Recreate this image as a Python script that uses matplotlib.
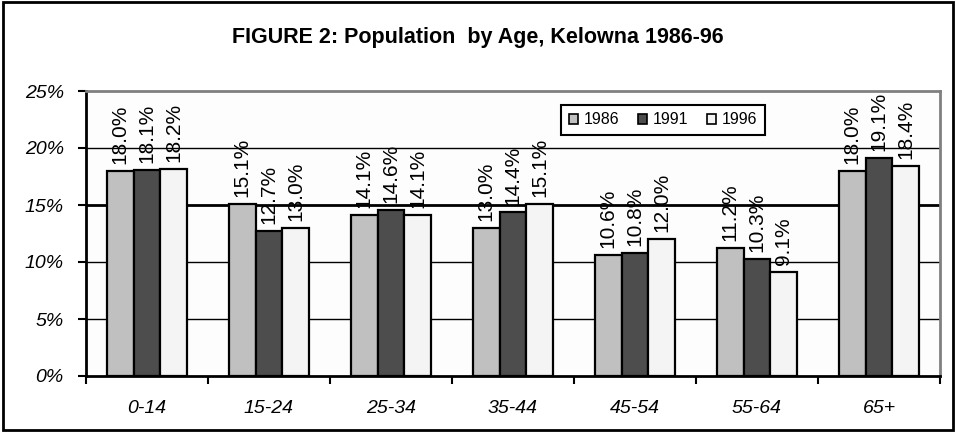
#set up modules
import numpy as np
import matplotlib.pyplot as plt
from matplotlib.patches import Patch, Rectangle

plt.rcParams['font.family'] = ['Liberation Sans', 'DejaVu Sans']

#chart data
age_groups = ['0-14', '15-24', '25-34', '35-44', '45-54', '55-64', '65+']
years = ['1986', '1991', '1996']
pop_1986 = [18.0, 15.1, 14.1, 13.0, 10.6, 11.2, 18.0]
pop_1991 = [18.1, 12.7, 14.6, 14.4, 10.8, 10.3, 19.1]
pop_1996 = [18.2, 13.0, 14.1, 15.1, 12.0, 9.1, 18.4]
y_ticks = [0, 5, 10, 15, 20, 25]

series = [pop_1986, pop_1991, pop_1996]
colors = ['#c0c0c0', '#4d4d4d', '#f4f4f4']

W, H = 956, 432
fig = plt.figure(figsize=(W / 100, H / 100), dpi=100)
fig.patch.set_facecolor('white')
ax = fig.add_axes([86 / W, 1 - 376 / H, (940 - 86) / W, (376 - 91) / H])
ax.set_facecolor('#fdfdfd')

#outer frame round the whole chart
fig.patches.append(Rectangle((3 / W, 2 / H), 950 / W, 428 / H, transform=fig.transFigure,
                             fill=False, edgecolor='black', linewidth=2, zorder=0))

x = np.arange(len(age_groups))
bw = 0.22
for i, vals in enumerate(series):
    pos = x + (i - 1) * bw
    ax.bar(pos, vals, width=bw, color=colors[i], edgecolor='black', linewidth=1.6, zorder=3)
    for xp, v in zip(pos, vals):
        ax.text(xp, v + 0.6, f'{v:.1f}%', rotation=90, ha='center', va='bottom',
                fontsize=15, zorder=4)

#gridlines
for yv in [5, 10, 20]:
    ax.axhline(yv, color='black', linewidth=1, zorder=1)
ax.axhline(15, color='black', linewidth=2, zorder=1)

ax.set_xlim(-0.5, len(age_groups) - 0.5)
ax.set_ylim(0, 25)
ax.set_yticks(y_ticks)
ax.set_yticklabels([f'{t}%' for t in y_ticks], fontsize=14, style='italic')
ax.set_xticks(x)
ax.set_xticklabels(age_groups, fontsize=14, style='italic')
ax.set_xticks(np.arange(-0.5, len(age_groups)), minor=True)
ax.tick_params(axis='x', which='major', length=0, pad=17)
ax.tick_params(axis='x', which='minor', length=6, width=1.5, direction='out')
ax.tick_params(axis='y', length=6, width=1.5, direction='out', pad=10)

for s in ['left', 'bottom']:
    ax.spines[s].set_linewidth(2)
    ax.spines[s].set_color('black')
for s in ['top', 'right']:
    ax.spines[s].set_linewidth(2)
    ax.spines[s].set_color('#808080')

fig.text(0.5, 1 - 38 / H, 'FIGURE 2: Population  by Age, Kelowna 1986-96',
         ha='center', va='center', fontsize=15.5, fontweight='bold')

handles = [Patch(facecolor=c, edgecolor='black', linewidth=1.2) for c in colors]
leg = ax.legend(handles, years, ncol=3, loc='center',
                bbox_to_anchor=(663 / W, 1 - 120 / H), bbox_transform=fig.transFigure,
                fontsize=11.5, handlelength=0.55, handleheight=0.55, handletextpad=0.35,
                columnspacing=1.2, borderpad=0.5, fancybox=False, framealpha=1)
leg.get_frame().set_edgecolor('black')
leg.get_frame().set_linewidth(1.5)
leg.set_zorder(5)

plt.savefig('out.png', dpi=100)
